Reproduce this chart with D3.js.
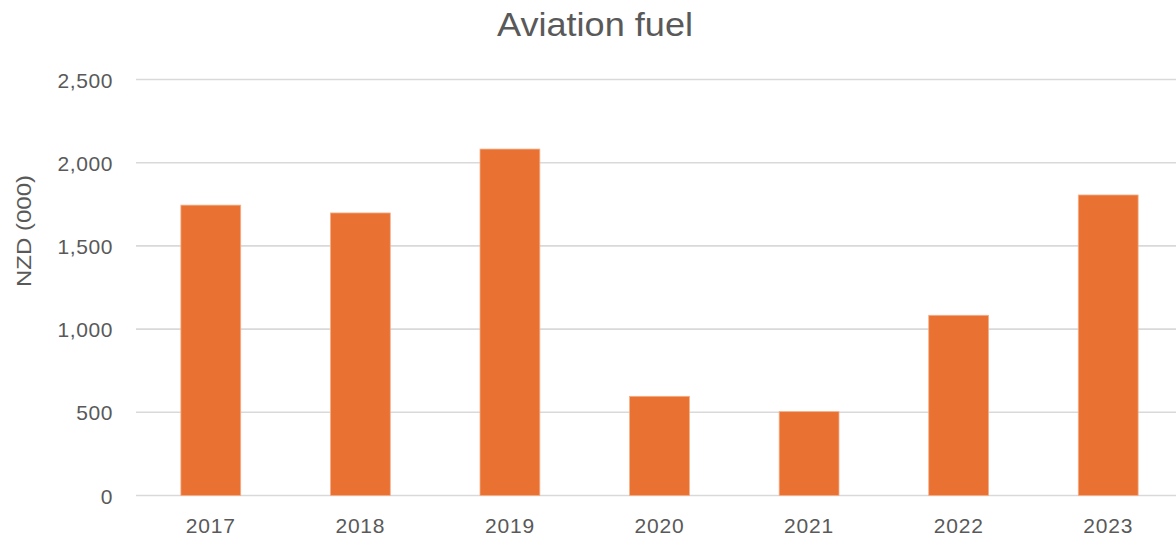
<!DOCTYPE html>
<html>
<head>
<meta charset="utf-8">
<script src="https://cdn.jsdelivr.net/npm/d3@7"></script>
<style>
  body { margin: 0; background: #fff; }
  svg { display: block; font-family: "Liberation Sans", Arial, sans-serif; }
</style>
</head>
<body>
<div id="chart"></div>
<script>
// Aviation fuel bars
var years = ["2017", "2018", "2019", "2020", "2021", "2022", "2023"];
var values = [1745, 1698, 2082, 596, 504, 1083, 1806];
var yTicks = [0, 500, 1000, 1500, 2000, 2500];

var w = 1176, h = 542;
var margin = {left: 136, right: -7, top: 80, bottom: 46};

var svg = d3.select("#chart")
    .append("svg")
    .attr("width", w)
    .attr("height", h);

var x = d3.scaleBand()
    .domain(years)
    .range([margin.left, w - margin.right])
    .paddingInner(0.6)
    .paddingOuter(0.3);

var y = d3.scaleLinear()
    .domain([0, 2500])
    .range([h - margin.bottom - 0.5, margin.top - 0.5]);

// gridlines
svg.append("g")
    .selectAll("line")
    .data(yTicks)
    .enter()
    .append("line")
    .attr("x1", margin.left)
    .attr("x2", w)
    .attr("y1", d => y(d))
    .attr("y2", d => y(d))
    .attr("stroke", "#d9d9d9")
    .attr("stroke-width", 1.6);

// y axis labels
var yAxis = d3.axisLeft(y)
    .tickValues(yTicks)
    .tickSize(0)
    .tickPadding(23)
    .tickFormat(d3.format(","));
var gy = svg.append("g")
    .attr("transform", `translate(${margin.left}, 0)`)
    .call(yAxis);
gy.select(".domain").remove();
gy.selectAll("text")
    .attr("fill", "#595959")
    .style("font-size", "21px")
    .style("letter-spacing", "0.6px")
    .attr("dy", "0.36em");

// x axis labels
var xAxis = d3.axisBottom(x).tickSize(0).tickPadding(23);
var gx = svg.append("g")
    .attr("transform", `translate(0, ${y(0)})`)
    .call(xAxis);
gx.select(".domain").remove();
gx.selectAll("text")
    .attr("fill", "#595959")
    .style("font-size", "21px")
    .style("letter-spacing", "0.8px");

// bars
svg.append("g")
    .selectAll("rect")
    .data(values)
    .enter()
    .append("rect")
    .attr("x", (d, i) => x(years[i]))
    .attr("width", x.bandwidth())
    .attr("y", d => y(d))
    .attr("height", d => y(0) - y(d))
    .attr("fill", "#e97132")
    .attr("stroke", "#f4b08a")
    .attr("stroke-width", 0.8);

// title
svg.append("text")
    .attr("x", 595)
    .attr("y", 35.5)
    .attr("text-anchor", "middle")
    .attr("fill", "#595959")
    .style("font-size", "33px")
    .attr("textLength", 196)
    .attr("lengthAdjust", "spacingAndGlyphs")
    .text("Aviation fuel");

// y axis title
svg.append("text")
    .attr("transform", "translate(31, 231) rotate(-90)")
    .attr("text-anchor", "middle")
    .attr("fill", "#595959")
    .style("font-size", "21px")
    .attr("textLength", 112)
    .attr("lengthAdjust", "spacingAndGlyphs")
    .text("NZD (000)");
</script>
</body>
</html>
